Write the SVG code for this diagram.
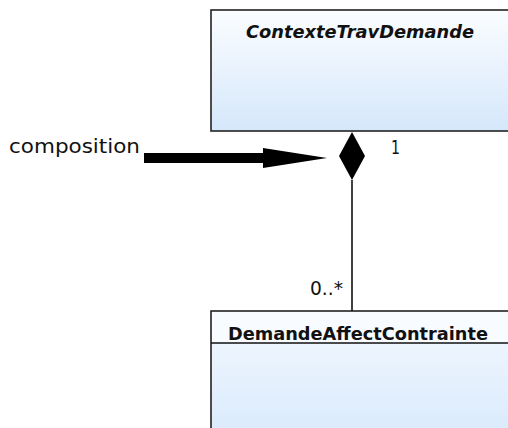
<svg xmlns="http://www.w3.org/2000/svg" width="508" height="428" viewBox="0 0 508 428">
<style>
.box{stroke:#222222;stroke-width:1.6;fill:url(#g)}
.t{font-family:"DejaVu Sans","Verdana",sans-serif;fill:#111111}
.title{font-size:18px;font-weight:bold}
.lbl{font-size:19px}
.line{stroke:#111111;stroke-width:1.6;fill:none}
</style>
<defs>
<linearGradient id="g" x1="0" y1="0" x2="0" y2="1">
<stop offset="0" stop-color="#fbfdff"/>
<stop offset="1" stop-color="#d5e7fb"/>
</linearGradient>
<linearGradient id="g2" x1="0" y1="0" x2="0" y2="1">
<stop offset="0" stop-color="#f3f8ff"/>
<stop offset="1" stop-color="#d9eafc"/>
</linearGradient>
</defs>
<rect width="508" height="428" fill="#ffffff"/>
<g id="ContexteTravDemande">
<rect class="box" x="211" y="10" width="310" height="121"/>
<text class="t title" x="246" y="38" font-style="italic" textLength="228" lengthAdjust="spacingAndGlyphs">ContexteTravDemande</text>
</g>
<g id="DemandeAffectContrainte">
<rect class="box" x="211" y="311" width="310" height="130" style="fill:url(#g2)"/>
<rect x="212" y="312" width="300" height="31" fill="#f8fbff"/>
<line class="line" x1="211" y1="343" x2="508" y2="343"/>
<text class="t title" x="228" y="340" textLength="260" lengthAdjust="spacingAndGlyphs">DemandeAffectContrainte</text>
</g>
<g id="connectors">
<line class="line" x1="352" y1="180" x2="352" y2="311"/>
<polygon points="352,132 365,156 352,180 339,156" fill="#000"/>
<text class="t lbl" x="391" y="154" textLength="9" lengthAdjust="spacingAndGlyphs">1</text>
<text class="t lbl" x="310" y="295" textLength="33" lengthAdjust="spacingAndGlyphs">0..*</text>
</g>
<g id="composition-note">
<text class="t lbl" x="9" y="153" textLength="131" lengthAdjust="spacingAndGlyphs">composition</text>
<rect x="144" y="153" width="121" height="10" fill="#000"/>
<polygon points="263,148 327,158 263,168" fill="#000"/>
</g>
</svg>
